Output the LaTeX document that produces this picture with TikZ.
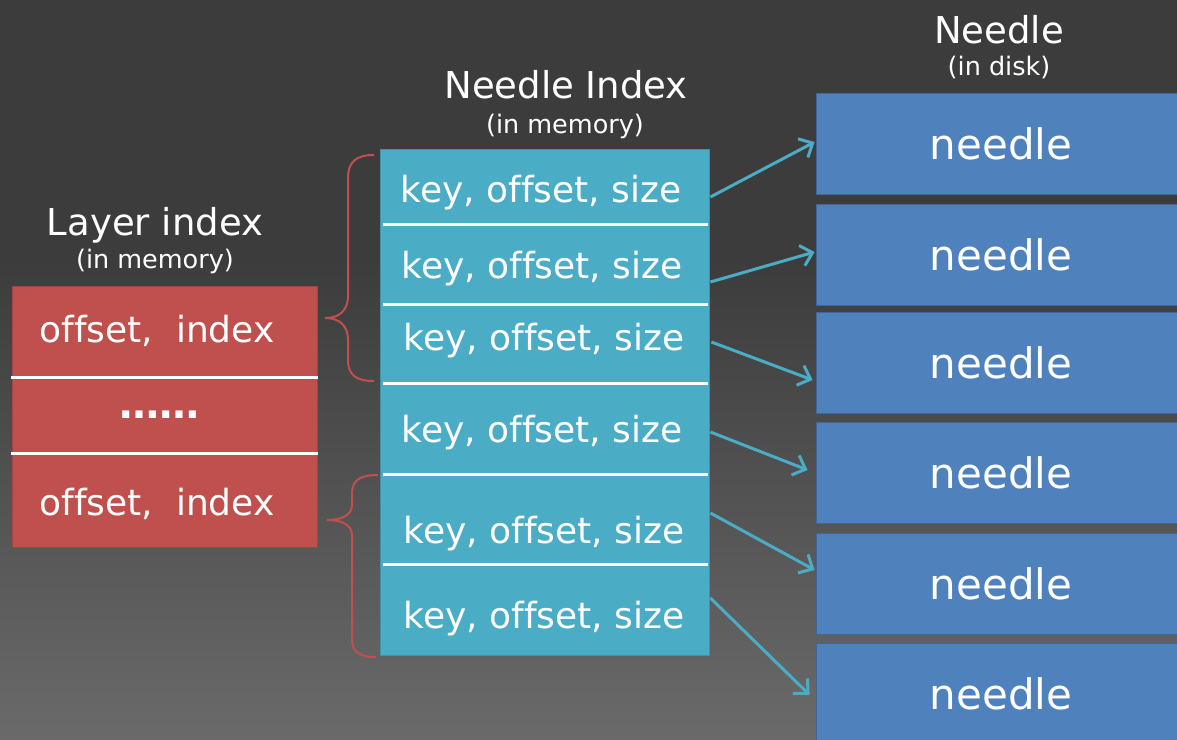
\documentclass[tikz,border=0pt]{standalone}
\usepackage{fontspec}
\setmainfont[Ligatures=NoCommon]{DejaVu Sans}
\usetikzlibrary{arrows.meta,calc}
\definecolor{redbox}{HTML}{C0504D}
\definecolor{cyanbox}{HTML}{4BACC6}
\definecolor{bluebox}{HTML}{4F81BD}
\definecolor{bgtop}{HTML}{3C3C3C}
\definecolor{bgbot}{HTML}{6A6A6A}
\begin{document}
\begin{tikzpicture}[x=1pt,y=-1pt,
 title/.style={text=white,font=\fontsize{37}{42}\selectfont,anchor=base,inner sep=0pt},
 subtitle/.style={text=white,font=\fontsize{25.5}{30}\selectfont,anchor=base,inner sep=0pt},
 rowtext/.style={text=white,font=\fontsize{36}{41}\selectfont,anchor=base,inner sep=0pt},
 needlebox/.style={fill=bluebox,draw=bluebox!80!black,line width=0.8pt,minimum width=370pt,minimum height=101pt,inner sep=0pt,text=white,font=\fontsize{42}{48}\selectfont},
 divider/.style={white,line width=3pt},
 link/.style={cyanbox,line width=3pt,-{Straight Barb[length=11pt,width=21pt]}},
 bracestyle/.style={redbox,line width=2pt},
]
\useasboundingbox (0,0) rectangle (1177,739);
\clip (0,0) rectangle (1177,739);
\fill[bgtop] (0,0) rectangle (1177,261);
\shade[top color=bgtop,bottom color=bgbot] (0,260) rectangle (1177,739);

% titles
\node[title] (t1) at (155,235) {Layer index};
\node[subtitle] (s1) at (155,268) {(in memory)};
\node[title] (t2) at (566,98) {Needle Index};
\node[subtitle] (s2) at (565,133) {(in memory)};
\node[title] (t3) at (999,43) {Needle};
\node[subtitle] (s3) at (999,75) {(in disk)};

% layer index box
\node[fill=redbox,draw=redbox!85!black,line width=0.8pt,minimum width=305pt,minimum height=261pt,inner sep=0pt] (layer) at (164.5,416.5) {};
\draw[divider] (11,377) -- (318,377);
\draw[divider] (11,453) -- (318,453);
\node[rowtext] (l1) at (157,342) {offset,\ \ index};
\node[rowtext,font=\fontsize{40}{44}\selectfont\bfseries] (l2) at (159,418) {……};
\node[rowtext] (l3) at (157,515) {offset,\ \ index};

% needle index box
\node[fill=cyanbox,draw=cyanbox!85!black,line width=0.8pt,minimum width=329pt,minimum height=506pt,inner sep=0pt] (cy) at (544.5,402) {};
\foreach \yy in {224,304,383,474,564} \draw[divider] (383,\yy) -- (708,\yy);
\node[rowtext] (k1) at (541,202) {key, offset, size};
\node[rowtext] (k2) at (542,278) {key, offset, size};
\node[rowtext] (k3) at (544,350) {key, offset, size};
\node[rowtext] (k4) at (542,442) {key, offset, size};
\node[rowtext] (k5) at (544,543) {key, offset, size};
\node[rowtext] (k6) at (544,628) {key, offset, size};

% needles
\node[needlebox] (n1) at (1001,144) {needle};
\node[needlebox] (n2) at (1001,254.5) {needle};
\node[needlebox] (n3) at (1001,363) {needle};
\node[needlebox] (n4) at (1001,472.5) {needle};
\node[needlebox] (n5) at (1001,584) {needle};
\node[needlebox] (n6) at (1001,694) {needle};

% arrows
\draw[link] ($(k1.base -| cy.east)+(1,-5)$) -- ($(n1.west)+(-1,-2)$);
\draw[link] ($(k2.base -| cy.east)+(1,4)$) -- ($(n2.west)+(-1,-2.5)$);
\draw[link] ($(k3.base -| cy.east)+(2,-8)$) -- ($(n3.west)+(-3,17)$);
\draw[link] ($(k4.base -| cy.east)+(1,-10)$) -- ($(n4.west)+(-8,-2.5)$);
\draw[link] ($(k5.base -| cy.east)+(1,-30)$) -- ($(n5.west)+(-1,-14)$);
\draw[link] ($(k6.base -| cy.east)+(1,-30)$) -- ($(n6.west)+(-6,1)$);

% braces
\draw[bracestyle] (374,155) .. controls (356,155) and (348,162) .. (348,178) -- (348,296)
  .. controls (348,310) and (340,318) .. (325,318) .. controls (340,318) and (348,326) .. (348,340)
  -- (348,360) .. controls (348,375) and (356,381) .. (374,381);
\draw[bracestyle] (378,475) .. controls (360,475) and (352,480) .. (352,494) -- (352,505)
  .. controls (352,515) and (342,520) .. (327,520) .. controls (342,520) and (352,525) .. (352,535)
  -- (352,640) .. controls (352,652) and (360,657) .. (376,657);
\end{tikzpicture}
\end{document}
